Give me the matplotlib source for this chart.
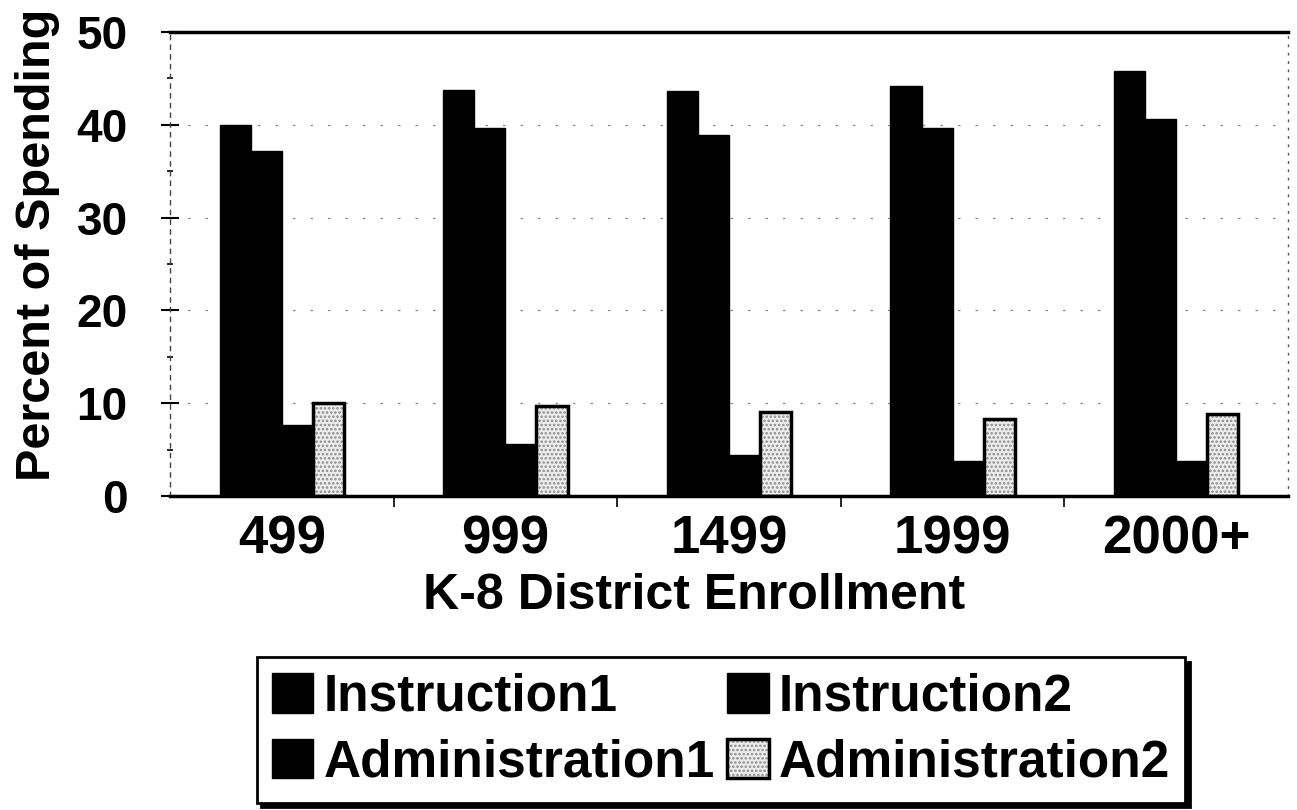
import matplotlib
matplotlib.use("Agg")
import matplotlib.pyplot as plt
import numpy as np
from matplotlib.legend_handler import HandlerTuple

categories = ["499", "999", "1499", "1999", "2000+"]
instruction1 = [40.0, 43.8, 43.6, 44.2, 45.8]
instruction2 = [37.2, 39.7, 38.9, 39.7, 40.6]
administration1 = [7.6, 5.6, 4.4, 3.8, 3.8]
administration2 = [10.0, 9.7, 9.1, 8.3, 8.8]
series_names = ["Instruction1", "Instruction2", "Administration1", "Administration2"]
y_ticks = [0, 10, 20, 30, 40, 50]

plt.rcParams['font.family'] = ['Liberation Sans', 'DejaVu Sans']
plt.rcParams['font.weight'] = 'bold'
plt.rcParams['hatch.linewidth'] = 1.2

fig = plt.figure(figsize=(12.97, 8.10), dpi=100)
ax = fig.add_axes([170/1297, 1-496/810, (1288-170)/1297, (496-32)/810])

x = np.arange(len(categories))
w = 0.139
b1 = ax.bar(x - 1.5*w, instruction1, w, color='black', edgecolor='black', lw=1)
b2 = ax.bar(x - 0.5*w, instruction2, w, color='black', edgecolor='black', lw=1)
b3 = ax.bar(x + 0.5*w, administration1, w, color='black', edgecolor='black', lw=1)
b4h = ax.bar(x + 1.5*w, administration2, w, color='#ececec', edgecolor='#8a8a8a',
             hatch='....', lw=0)
b4 = ax.bar(x + 1.5*w, administration2, w, fill=False, edgecolor='black', lw=2.5)

ax.set_xlim(-0.5, len(categories) - 0.5)
ax.set_ylim(0, 50)
ax.set_yticks(y_ticks)
ax.set_yticks([5, 15, 25, 35, 45], minor=True)
ax.yaxis.grid(True, which='major', linestyle=(0, (2, 12)), color='#888888', lw=0.9)
ax.set_axisbelow(True)

ax.set_xticks(x)
ax.set_xticklabels(categories)
ax.set_xticks(np.arange(0.5, len(categories) - 0.5, 1), minor=True)

ax.tick_params(axis='y', which='major', direction='inout', length=13, width=1.5,
               labelsize=33, pad=24)
ax.tick_params(axis='y', which='minor', direction='inout', length=5, width=1.2)
ax.tick_params(axis='x', which='major', length=0, labelsize=38, pad=13)
ax.tick_params(axis='x', which='minor', direction='out', length=8, width=1.2)

for spine in ['top', 'bottom']:
    ax.spines[spine].set_linewidth(2.5)
    ax.spines[spine].set_color('black')
ax.spines['left'].set_linestyle((0, (3, 4)))
ax.spines['left'].set_linewidth(1.0)
ax.spines['left'].set_color('#444444')
ax.spines['right'].set_linestyle((0, (1, 5)))
ax.spines['right'].set_linewidth(1.0)
ax.spines['right'].set_color('#555555')

ax.set_xlabel("K-8 District Enrollment", fontsize=36, fontweight='bold')
ax.xaxis.set_label_coords(0.469, -0.165)
fig.text(38/1297, 1 - 245/810, "Percent of Spending", rotation=90,
         ha='center', va='center', fontsize=35, fontweight='bold')

handles = [b1[0], b3[0], b2[0], (b4h[0], b4[0])]
labels = [series_names[0], series_names[2], series_names[1], series_names[3]]
leg = fig.legend(handles, labels, ncol=2, loc='center',
                 bbox_to_anchor=(721/1297, 1 - 730/810),
                 fontsize=37, frameon=True, fancybox=False,
                 handlelength=0.8, handleheight=0.8, handletextpad=0.2,
                 columnspacing=0.25, labelspacing=0.32, borderpad=0.3,
                 borderaxespad=0,
                 handler_map={tuple: HandlerTuple(ndivide=1, pad=0)},
                 shadow={'color': 'black', 'alpha': 1.0, 'ox': 3, 'oy': -3})
leg.get_frame().set_edgecolor('black')
leg.get_frame().set_linewidth(2.0)

fig.savefig("out.png", dpi=100)
